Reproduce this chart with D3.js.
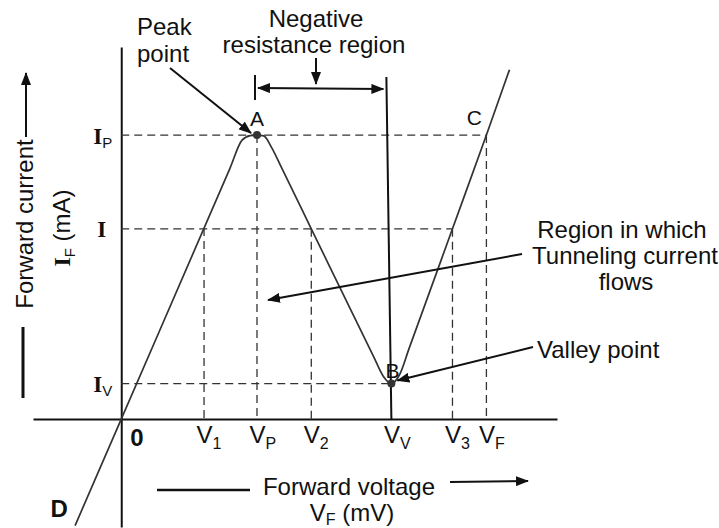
<!DOCTYPE html>
<html>
<head>
    <meta charset='utf-8'>
    <title>Tunnel diode V-I</title>
    <script src='https://cdn.jsdelivr.net/npm/d3@7'></script>
    <style>
        body { margin: 0; background: #fff; }
        text { font-family: 'Liberation Sans', Arial, sans-serif; fill: #111; }
        .serif { font-family: 'Liberation Serif', 'Times New Roman', serif; font-weight: bold; }
    </style>
</head>
<body>
    <svg width='719' height='528'></svg>
    <script>
        // 数据 (mV / mA, 读自原图)
        const tickSubs = ['1', 'P', '2', 'V', '3', 'F']
        const tickValues = [61, 100, 140, 199, 244, 269]
        const currentSubs = ['P', '', 'V']
        const currentValues = [10, 6.7, 1.25]
        const curveV = [-34, 0, 80, 89, 95, 100, 105, 111, 118, 140, 186, 193, 199, 205, 212, 244, 269, 286]
        const curveI = [-3.75, 0, 8.82, 9.82, 9.98, 10, 9.97, 9.54, 8.86, 6.7, 2.19, 1.51, 1.25, 1.56, 2.48, 6.7, 10, 12.3]
        const pointNames = ['A', 'B', 'C', 'D']

        const svg = d3.select('svg')
        const x = d3.scaleLinear([-65, 321], [33, 557])
        const y = d3.scaleLinear([-3.8, 13.1], [527, 47])

        // 箭头
        const defs = svg.append('defs')
        defs.append('marker').attr('id', 'head')
            .attr('markerUnits', 'userSpaceOnUse')
            .attr('markerWidth', 14).attr('markerHeight', 10)
            .attr('refX', 12).attr('refY', 5)
            .attr('orient', 'auto-start-reverse')
            .append('path').attr('d', 'M0,0 L13,5 L0,10 Z').attr('fill', '#111')

        // 曲线上某电压的电流 (线性插值)
        const curveAt = v => {
            for (let k = 0; k < curveV.length - 1; k++) {
                if (v >= curveV[k] && v <= curveV[k + 1]) {
                    const t = (v - curveV[k]) / (curveV[k + 1] - curveV[k])
                    return curveI[k] + t * (curveI[k + 1] - curveI[k])
                }
            }
            return 0
        }

        const g = svg.append('g')

        // 坐标轴
        const gx = g.append('g').attr('transform', `translate(0,${y(0)})`)
            .call(d3.axisBottom(x).tickValues(tickValues).tickSize(0).tickSizeOuter(0).tickFormat(() => ''))
        gx.select('.domain').attr('stroke', '#111').attr('stroke-width', 2)
        const gy = g.append('g').attr('transform', `translate(${x(0)},0)`)
            .call(d3.axisLeft(y).tickValues(currentValues).tickSize(0).tickSizeOuter(0).tickFormat(() => ''))
        gy.select('.domain').attr('stroke', '#111').attr('stroke-width', 2)

        // x轴标签
        gx.selectAll('.tick').each(function (d, i) {
            const t = d3.select(this).append('text')
                .attr('x', -8).attr('y', 24).attr('text-anchor', 'start')
                .attr('font-size', 24).attr('fill', '#111')
            t.append('tspan').text('V')
            t.append('tspan').attr('dy', 6).attr('font-size', 16).text(tickSubs[i])
        })
        g.append('text').attr('x', x(0) + 9).attr('y', y(0) + 27)
            .attr('font-size', 24).attr('font-weight', 'bold').text('0')

        // y轴标签
        gy.selectAll('.tick').each(function (d, i) {
            const t = d3.select(this).append('text')
                .attr('x', currentSubs[i] ? -28 : -24).attr('y', 8).attr('text-anchor', 'start')
                .attr('fill', '#111')
            t.append('tspan').attr('class', 'serif').attr('font-size', 23).text('I')
            t.append('tspan').attr('dy', 4).attr('font-size', 15).text(currentSubs[i])
        })

        // 虚线
        const dash = g.append('g').attr('stroke', '#333').attr('stroke-width', 1.3)
            .attr('stroke-dasharray', '8,5').attr('fill', 'none')
        currentValues.forEach(c => {
            const ends = tickValues.filter(v => Math.abs(curveAt(v) - c) < 0.1)
            dash.append('line').attr('x1', x(0)).attr('x2', x(d3.max(ends)))
                .attr('y1', y(c)).attr('y2', y(c))
        })
        tickValues.forEach((v, i) => {
            if (tickSubs[i] === 'V') return
            dash.append('line').attr('x1', x(v)).attr('x2', x(v))
                .attr('y1', y(curveAt(v))).attr('y2', y(0))
        })

        // 谷点竖线 (实线)
        const vv = tickValues[3]
        g.append('line').attr('x1', x(vv) - 5).attr('x2', x(vv))
            .attr('y1', 77).attr('y2', y(0))
            .attr('stroke', '#111').attr('stroke-width', 2)

        // 特性曲线
        const line = d3.line().x((d, i) => x(curveV[i])).y((d, i) => y(curveI[i])).curve(d3.curveMonotoneX)
        g.append('path').attr('d', line(curveV))
            .attr('fill', 'none').attr('stroke', '#333').attr('stroke-width', 1.7)

        // A, B 点
        const peakV = tickValues[1], valleyV = tickValues[3]
        g.selectAll('.dot').data([[peakV, curveAt(peakV)], [valleyV, curveAt(valleyV)]]).enter()
            .append('circle').attr('cx', d => x(d[0])).attr('cy', d => y(d[1]))
            .attr('r', 4).attr('fill', '#333')

        // 点名
        const namePos = [
            [x(peakV), y(curveAt(peakV)) - 9],
            [x(valleyV) + 1, y(curveAt(valleyV)) - 6],
            [x(tickValues[5]) - 12, y(curveAt(tickValues[5])) - 10],
            [x(curveV[0]) - 16, y(curveI[0]) - 9]
        ]
        pointNames.forEach((n, i) => {
            g.append('text').attr('x', namePos[i][0]).attr('y', namePos[i][1])
                .attr('text-anchor', 'middle').attr('font-size', i === 3 ? 24 : 21)
                .attr('font-weight', i === 3 ? 'bold' : 'normal').text(n)
        })

        // 注释文字
        const note = (tx, ty, s, anchor) => g.append('text').attr('x', tx).attr('y', ty)
            .attr('text-anchor', anchor || 'middle').attr('font-size', 24).text(s)
        note(137, 35, 'Peak', 'start')
        note(137, 62, 'point', 'start')
        note(316, 27, 'Negative')
        note(314, 53, 'resistance region')
        note(622, 238, 'Region in which')
        note(625, 264, 'Tunneling current')
        note(626, 290, 'flows')
        note(537, 358, 'Valley point', 'start')

        // 注释箭头
        const arrow = (x1, y1, x2, y2, both) => {
            const l = g.append('line').attr('x1', x1).attr('y1', y1).attr('x2', x2).attr('y2', y2)
                .attr('stroke', '#111').attr('stroke-width', 2).attr('marker-end', 'url(#head)')
            if (both) l.attr('marker-start', 'url(#head)')
        }
        arrow(170, 68, x(peakV) - 6, y(curveAt(peakV)) - 2)
        arrow(316, 58, 316, 84)
        arrow(x(peakV) + 1, 88, x(vv) - 8, 89, true)
        g.append('line').attr('x1', x(peakV) - 2).attr('x2', x(peakV) - 2).attr('y1', 75).attr('y2', 100)
            .attr('stroke', '#111').attr('stroke-width', 2)
        arrow(522, 254, 268, 300)
        arrow(533, 347, x(valleyV) + 6, y(curveAt(valleyV)) - 3)

        // y轴标题
        g.append('text').attr('transform', 'translate(33,224) rotate(-90)')
            .attr('text-anchor', 'middle').attr('font-size', 24).text('Forward current')
        arrow(26, 137, 26, 73)
        g.append('line').attr('x1', 23).attr('x2', 23).attr('y1', 327).attr('y2', 398)
            .attr('stroke', '#111').attr('stroke-width', 3)
        const tf = g.append('text').attr('transform', 'translate(70,228) rotate(-90)')
            .attr('text-anchor', 'middle').attr('font-size', 24)
        tf.append('tspan').attr('class', 'serif').text('I')
        tf.append('tspan').attr('dy', 5).attr('font-size', 15).text('F')
        tf.append('tspan').attr('dy', -5).text(' (mA)')

        // x轴标题
        g.append('line').attr('x1', 157).attr('x2', 250).attr('y1', 490).attr('y2', 490)
            .attr('stroke', '#111').attr('stroke-width', 2.5)
        note(349, 495, 'Forward voltage')
        arrow(450, 482, 528, 481)
        const vf = g.append('text').attr('x', 352).attr('y', 521).attr('text-anchor', 'middle').attr('font-size', 24)
        vf.append('tspan').text('V')
        vf.append('tspan').attr('dy', 4).attr('font-size', 16).text('F')
        vf.append('tspan').attr('dy', -4).text(' (mV)')
    </script>
</body>
</html>
